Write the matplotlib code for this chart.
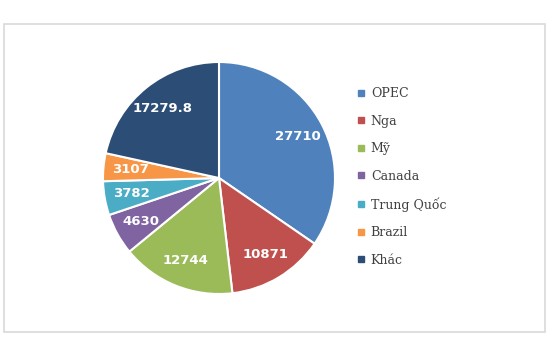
import matplotlib
matplotlib.use("Agg")
import matplotlib.pyplot as plt
from matplotlib.lines import Line2D
from matplotlib.patches import Rectangle

# donnees
categories = ["OPEC", "Nga", "Mỹ", "Canada", "Trung Quốc", "Brazil", "Khác"]
values = [27710, 10871, 12744, 4630, 3782, 3107, 17279.8]
value_labels = ["27710", "10871", "12744", "4630", "3782", "3107", "17279.8"]
colors = ["#4F81BD", "#C0504D", "#9BBB59", "#8064A2", "#4BACC6", "#F79646", "#2C4D75"]

W, H = 550, 357
fig = plt.figure(figsize=(W / 100, H / 100), dpi=100)
fig.patch.set_facecolor("white")

# cadre gris autour du graphique
fig.patches.append(Rectangle((4 / W, (H - 332) / H), 541 / W, 308 / H,
                             transform=fig.transFigure, fill=False,
                             edgecolor="#D9D9D9", linewidth=1.2))

cx, cy, r = 219, 178, 116
ax = fig.add_axes([(cx - r) / W, (H - cy - r) / H, 2 * r / W, 2 * r / H])

lab_iter = iter(value_labels)
wedges, texts, autotexts = ax.pie(values, colors=colors, startangle=90, counterclock=False,
                                  autopct=lambda p: next(lab_iter), pctdistance=0.77,
                                  wedgeprops=dict(edgecolor="white", linewidth=1.5))
for t in autotexts:
    t.set_color("white")
    t.set_fontweight("bold")
    t.set_fontsize(9.5)
    t.set_family("DejaVu Sans")
ax.set_xlim(-1, 1)
ax.set_ylim(-1, 1)
ax.set_aspect("equal")

handles = [Line2D([], [], marker="s", linestyle="none", markersize=4.5,
                  markerfacecolor=c, markeredgecolor=c) for c in colors]
leg = fig.legend(handles, categories, loc="upper left",
                 bbox_to_anchor=(357 / W, (H - 87) / H), frameon=False,
                 prop={"family": "DejaVu Serif", "size": 9},
                 handlelength=0.6, handletextpad=0.5, labelspacing=1.16,
                 borderaxespad=0, borderpad=0)
for t in leg.get_texts():
    t.set_color("#404040")

fig.savefig("out.png", dpi=100)
